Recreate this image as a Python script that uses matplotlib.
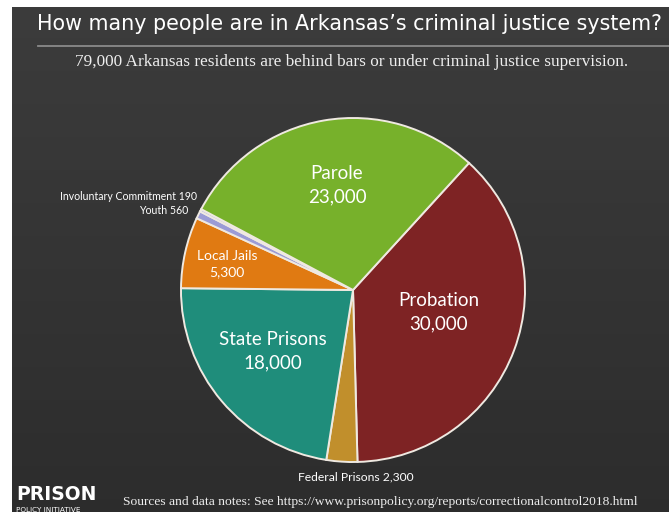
import numpy as np
import matplotlib
matplotlib.use("Agg")
from matplotlib import pyplot as plt

# Arkansas correctional control, 2018
categories = ["Probation", "Federal Prisons", "State Prisons", "Local Jails",
              "Youth", "Involuntary Commitment", "Parole"]
values = [30000, 2300, 18000, 5300, 560, 190, 23000]
value_labels = ["30,000", "2,300", "18,000", "5,300", "560", "190", "23,000"]
colors = ["#7e2324", "#c18f2c", "#1f8d7b", "#e07a12", "#9b9bd6", "#b7b7e6", "#77b12b"]

title = "How many people are in Arkansas\u2019s criminal justice system?"
subtitle = "79,000 Arkansas residents are behind bars or under criminal justice supervision."
source = "Sources and data notes: See https://www.prisonpolicy.org/reports/correctionalcontrol2018.html"

W, H = 669, 512
fig = plt.figure(figsize=(W / 100, H / 100), dpi=100)
fig.patch.set_facecolor("white")

# dark panel with a soft vertical gradient
bg = fig.add_axes([12 / W, 0, 1 - 12 / W, 1 - 7 / H])
grad = np.linspace(0, 1, 256)[:, None]
top = np.array([0.235, 0.235, 0.235])
bot = np.array([0.175, 0.175, 0.175])
img = top + (bot - top) * grad[..., None]
bg.imshow(np.repeat(img, 2, axis=1), aspect="auto", extent=[0, 1, 0, 1])
bg.set_axis_off()

fig.text(37 / W, 1 - 24 / H, title, color="white", fontsize=14.9,
         family="DejaVu Sans", ha="left", va="center")
fig.add_artist(plt.Line2D([38 / W, 1], [1 - 46 / H] * 2, color="#8a8a8a", lw=1.3))
fig.text(352 / W, 1 - 62 / H, subtitle, color="#eeeeee", fontsize=12.4,
         family="Liberation Serif", ha="center", va="center")
fig.text(123 / W, 1 - 502 / H, source, color="#eeeeee", fontsize=9.7,
         family="Liberation Serif", ha="left", va="center")
fig.text(16 / W, 1 - 495 / H, "PRISON", color="white", fontsize=13.5,
         family="DejaVu Sans", weight="semibold", ha="left", va="center")
fig.text(16 / W, 1 - 510 / H, "POLICY INITIATIVE", color="white", fontsize=5.2,
         family="DejaVu Sans", ha="left", va="center")

# pie centred at (353, 290) px with a 172 px radius
cx, cy, r = 353, 290, 172
ax = fig.add_axes([(cx - r) / W, (H - cy - r) / H, 2 * r / W, 2 * r / H])
ax.set_axis_off()
ax.pie(values, colors=colors, startangle=47.6, counterclock=False,
       wedgeprops=dict(edgecolor="#efe9e1", linewidth=1.4))
ax.set_xlim(-1, 1)
ax.set_ylim(-1, 1)

def pos(px, py):
    return (px - cx) / r, (cy - py) / r

big = dict(color="white", family="Lato", ha="center", va="center", linespacing=1.45)
ax.text(*pos(337, 185), f"{categories[6]}\n{value_labels[6]}", fontsize=13.5, **big)
ax.text(*pos(439, 312), f"{categories[0]}\n{value_labels[0]}", fontsize=13.5, **big)
ax.text(*pos(273, 351), f"{categories[2]}\n{value_labels[2]}", fontsize=13.5, **big)
ax.text(*pos(227, 264), f"{categories[3]}\n{value_labels[3]}", fontsize=10, **big)

small = dict(color="white", family="Lato", va="center")
ax.text(*pos(356, 477), f"{categories[1]} {value_labels[1]}", ha="center",
        fontsize=8.7, **small)
ax.text(*pos(197, 197), f"{categories[5]} {value_labels[5]}", ha="right",
        fontsize=7.6, **small)
ax.text(*pos(188, 211), f"{categories[4]} {value_labels[4]}", ha="right",
        fontsize=7.6, **small)

fig.savefig("out.png", dpi=100, facecolor=fig.get_facecolor())
